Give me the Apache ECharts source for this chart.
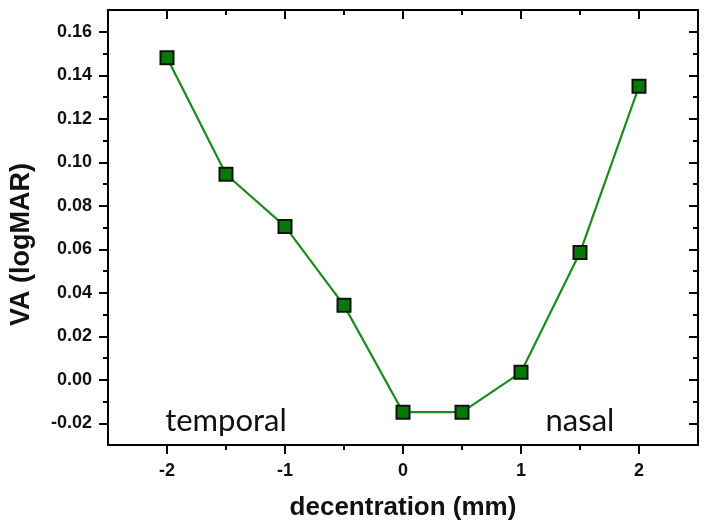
<!DOCTYPE html>
<html>
<head>
<meta charset="utf-8">
<script src="https://cdn.jsdelivr.net/npm/echarts@6/dist/echarts.min.js"></script>
<style>
html,body{margin:0;padding:0;background:#fff;}
#chart{width:707px;height:532px;}
</style>
</head>
<body>
<div id="chart"></div>
<script>
// ---- data ----
const decentration = [-2, -1.5, -1, -0.5, 0, 0.5, 1, 1.5, 2];
const vaLogMAR = [0.148, 0.0945, 0.0705, 0.0342, -0.0149, -0.0149, 0.0034, 0.0585, 0.1349];
const xMajorTicks = [-2, -1, 0, 1, 2];
const xMinorTicks = [-1.5, -0.5, 0.5, 1.5];
const yMajorTicks = [-0.02, 0, 0.02, 0.04, 0.06, 0.08, 0.10, 0.12, 0.14, 0.16];
const yMinorTicks = [-0.01, 0.01, 0.03, 0.05, 0.07, 0.09, 0.11, 0.13, 0.15];
const annotations = [
  { text: 'temporal', x: -1.5, y: -0.019 },
  { text: 'nasal', x: 1.5, y: -0.019 }
];
const xRange = [-2.5, 2.5];
const yRange = [-0.03, 0.17];

const chart = echarts.init(document.getElementById('chart'), null, { renderer: 'canvas' });

const lineStyleAxis = { color: '#000', width: 2 };
const labelFont = { color: '#111', fontSize: 18, fontWeight: 'bold', fontFamily: 'Liberation Sans, Arial, sans-serif' };

function xAx(pos, ticks, len, inside, opts) {
  return Object.assign({
    type: 'value', position: pos, min: xRange[0], max: xRange[1], interval: 0.5,
    axisLine: { show: true, onZero: false, lineStyle: lineStyleAxis },
    axisTick: { show: true, customValues: ticks, length: len, inside: inside, lineStyle: { color: '#000', width: 2 } },
    axisLabel: { show: false },
    splitLine: { show: false }
  }, opts || {});
}
function yAx(pos, ticks, len, inside, opts) {
  return Object.assign({
    type: 'value', position: pos, min: yRange[0], max: yRange[1], interval: 0.01,
    axisLine: { show: true, onZero: false, lineStyle: lineStyleAxis },
    axisTick: { show: true, customValues: ticks, length: len, inside: inside, lineStyle: { color: '#000', width: 2 } },
    axisLabel: { show: false },
    splitLine: { show: false }
  }, opts || {});
}

const option = {
  backgroundColor: '#fff',
  animation: false,
  grid: { left: 108, right: 9, top: 10, bottom: 87, containLabel: false },
  xAxis: [
    xAx('bottom', xMajorTicks, 9, false, {
      name: 'decentration (mm)', nameLocation: 'middle', nameGap: 50,
      nameTextStyle: { color: '#111', fontSize: 26, fontWeight: 'bold', fontFamily: 'Liberation Sans, Arial, sans-serif' },
      axisLabel: Object.assign({ show: true, customValues: xMajorTicks, margin: 17,
        formatter: v => String(v) }, labelFont)
    }),
    xAx('bottom', xMinorTicks, 5, false),
    xAx('top', xMajorTicks, 9, true),
    xAx('top', xMinorTicks, 5, true)
  ],
  yAxis: [
    yAx('left', yMajorTicks, 9, false, {
      name: 'VA (logMAR)', nameLocation: 'middle', nameGap: 73, nameRotate: 90,
      nameTextStyle: { color: '#111', fontSize: 27, fontWeight: 'bold', fontFamily: 'Liberation Sans, Arial, sans-serif', padding: [0, 34, 0, 0] },
      axisLabel: Object.assign({ show: true, customValues: yMajorTicks, margin: 16,
        formatter: v => v.toFixed(2) }, labelFont)
    }),
    yAx('left', yMinorTicks, 5, false),
    yAx('right', yMajorTicks, 9, true),
    yAx('right', yMinorTicks, 5, true)
  ],
  series: [{
    type: 'line',
    xAxisIndex: 0, yAxisIndex: 0,
    data: decentration.map((x, i) => [x, vaLogMAR[i]]),
    symbol: 'rect', symbolSize: 13,
    lineStyle: { color: '#1a8c1a', width: 2.2 },
    itemStyle: { color: '#067a06', borderColor: '#111', borderWidth: 2 },
    z: 3
  }]
};
chart.setOption(option);

const graphics = annotations.map(a => {
  const p = chart.convertToPixel({ gridIndex: 0 }, [a.x, a.y]);
  return {
    type: 'text', x: p[0], y: p[1], z: 10,
    style: { text: a.text, fill: '#111', font: '31px Lato, "Open Sans", sans-serif', align: 'center', verticalAlign: 'middle' }
  };
});
chart.setOption({ graphic: graphics });
</script>
</body>
</html>
